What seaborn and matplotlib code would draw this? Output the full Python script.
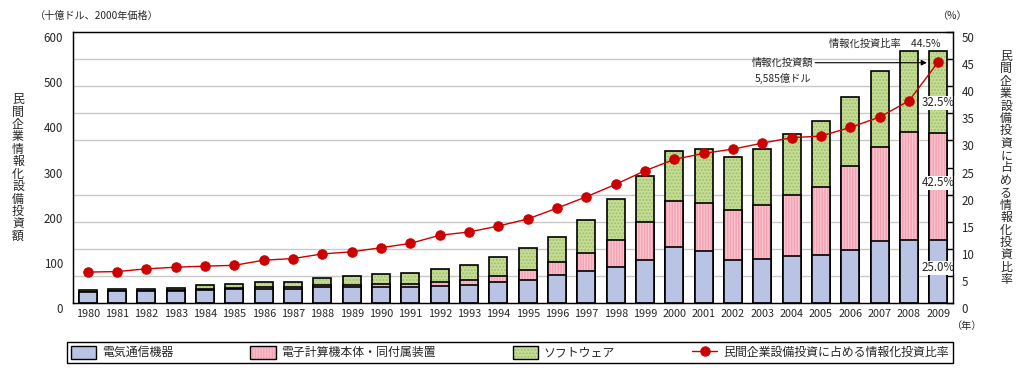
import numpy as np
import pandas as pd
import matplotlib
matplotlib.use("Agg")
import matplotlib.pyplot as plt
import seaborn as sns
from matplotlib.patches import Patch
from matplotlib.lines import Line2D

# ---------------- data ----------------
years = [str(y) for y in range(1980, 2010)]
telecom = [24, 26.5, 26.5, 27, 28, 31.5, 32, 31, 35, 35,
           35, 35, 37, 39, 46, 52, 61, 71, 80, 96,
           124, 115, 96, 98, 104, 107, 118, 137, 140, 139.6]
computers = [1, 1, 1, 1, 2, 1.5, 4, 4, 5, 4,
             7, 7, 9.4, 11, 13.6, 20, 29, 40, 60, 83,
             101, 106, 110, 119, 135, 150, 185, 209, 239, 237.4]
software = [4.5, 4.2, 4.2, 6, 9, 9.8, 11, 11, 15, 20.6,
            21.3, 23.5, 28, 33.2, 42, 48.8, 57, 73, 90, 102,
            111, 119, 117, 123, 135, 147, 154, 168, 178, 181.5]
ratio = [5.7, 5.8, 6.3, 6.6, 6.8, 6.95, 7.9, 8.2, 9.05, 9.45,
         10.2, 11.0, 12.5, 13.1, 14.2, 15.5, 17.5, 19.6, 21.9, 24.4,
         26.5, 27.6, 28.4, 29.5, 30.5, 30.8, 32.4, 34.3, 37.3, 44.5]

labels = ["電気通信機器", "電子計算機本体・同付属装置", "ソフトウェア",
          "民間企業設備投資に占める情報化投資比率"]

# ---------------- style ----------------
sns.set_style("white")
plt.rcParams["font.family"] = ["Noto Sans CJK JP", "DejaVu Sans"]
plt.rcParams["hatch.linewidth"] = 0.9

BLUE = "#b9c3e3"
PINK = "#f3a3b3"
PINK_STRIPE = "#f9c6d0"
GREEN = "#c5dc95"
GREEN_DOT = "#9fbf6a"
RED = "#cc0000"
GRID = "#c8c8c8"

df = pd.DataFrame({"year": years, "telecom": telecom,
                   "computers": computers, "software": software})
df["pink_top"] = df["telecom"] + df["computers"]
df["total"] = df["pink_top"] + df["software"]

W, H = 1027, 378
fig = plt.figure(figsize=(W / 100, H / 100), dpi=100)
ax = fig.add_axes([73 / W, 1 - 303 / H, 880 / W, 271 / H])

BW = 0.62


def layer(col, face, hatch=None, hatch_color=None):
    sns.barplot(data=df, x="year", y=col, color=face, saturation=1,
                width=BW, errorbar=None, linewidth=0, ax=ax)
    for p in ax.containers[-1]:
        p.set_edgecolor("none")
        p.set_linewidth(0)
    if hatch:
        sns.barplot(data=df, x="year", y=col, color=face, saturation=1,
                    width=BW, errorbar=None, linewidth=0, ax=ax)
        for p in ax.containers[-1]:
            p.set_facecolor("none")
            p.set_edgecolor(hatch_color)
            p.set_hatch(hatch)
            p.set_linewidth(0)
    sns.barplot(data=df, x="year", y=col, color=face, saturation=1,
                width=BW, errorbar=None, linewidth=1.2, ax=ax)
    for p in ax.containers[-1]:
        p.set_fill(False)
        p.set_edgecolor("black")
        p.set_linewidth(1.2)


layer("total", GREEN, ".....", GREEN_DOT)
layer("pink_top", PINK, "||||||", PINK_STRIPE)
layer("telecom", BLUE)

ax.set_xlim(-0.5, len(years) - 0.5)
ax.set_ylim(0, 600)
ax.set_xlabel("")
ax.set_ylabel("")
ax.set_yticks(np.arange(0, 601, 100))
ax.set_yticks(np.arange(0, 601, 60), minor=True)
ax.yaxis.grid(True, which="minor", color=GRID, linewidth=1)
ax.yaxis.grid(False, which="major")
ax.xaxis.grid(False)
ax.set_axisbelow(True)
ax.tick_params(axis="y", which="both", length=0, pad=7, labelsize=8.3)
ax.set_xticks(np.arange(len(years)))
ax.set_xticklabels(years)
ax.set_xticks(np.arange(0.5, len(years) - 1, 1), minor=True)
ax.tick_params(axis="x", which="major", length=0, pad=4, labelsize=7.8)
ax.tick_params(axis="x", which="minor", direction="in", length=5,
               width=1, color="black")
for s in ax.spines.values():
    s.set_color("black")
    s.set_linewidth(0.9)

# ---------------- line on right axis ----------------
ax2 = ax.twinx()
sns.lineplot(x=np.arange(len(years)), y=ratio, ax=ax2, color=RED,
             linewidth=1, marker="o", markersize=6.8,
             markeredgecolor=RED, markerfacecolor=RED)
ax2.set_ylim(0, 50)
ax2.set_xlim(-0.5, len(years) - 0.5)
ax2.set_yticks(np.arange(0, 51, 5))
ax2.tick_params(axis="y", direction="in", length=5, width=1, pad=6,
                labelsize=8.3, color="black")
ax2.set_ylabel("")
ax2.grid(False)
for s in ax2.spines.values():
    s.set_color("black")
    s.set_linewidth(0.9)

for lbl in ax.get_yticklabels():
    lbl.set_verticalalignment("top")
for lbl in ax2.get_yticklabels():
    lbl.set_verticalalignment("top")

# ---------------- annotations ----------------
tot09 = df["total"].iloc[-1]
shares = [df["software"].iloc[-1] / tot09, df["computers"].iloc[-1] / tot09,
          df["telecom"].iloc[-1] / tot09]
for txt_y, sh in zip([443, 266, 77.5], shares):
    ax.text(29.0, txt_y, f"{sh * 100:.1f}%", ha="center", va="center",
            fontsize=8.3, zorder=10,
            bbox=dict(facecolor="white", edgecolor="none", pad=0.3))

ax.text(29.06, 573, f"情報化投資比率　{ratio[-1]:.1f}%", ha="right",
        va="center", fontsize=7.4, zorder=10)
ax.text(23.7, 514, f"情報化投資額\n{tot09 * 10:,.0f}億ドル", ha="center",
        va="center", fontsize=7.4, linespacing=1.5, zorder=10)
ax.annotate("", xy=(28.61, 532), xytext=(24.8, 532),
            arrowprops=dict(arrowstyle="-|>", color="black", lw=0.8,
                            mutation_scale=8, shrinkA=0, shrinkB=0),
            zorder=10)

fig.text(35 / W, 1 - 16 / H, "（十億ドル、2000年価格）", ha="left",
         va="center", fontsize=7.3)
fig.text(953 / W, 1 - 16 / H, "（%）", ha="center", va="center", fontsize=7.3)
fig.text(967 / W, 1 - 326 / H, "（年）", ha="center", va="center",
         fontsize=7.3)

fig.text(18 / W, 1 - 168 / H, "\n".join("民間企業情報化設備投資額"),
         ha="center", va="center", fontsize=8.6, linespacing=0.94)
fig.text(1006 / W, 1 - 168 / H, "\n".join("民間企業設備投資に占める情報化投資比率"),
         ha="center", va="center", fontsize=8.6, linespacing=0.94)

# ---------------- legend ----------------
h_blue = Patch(facecolor=BLUE, edgecolor="black", linewidth=1)
h_pink = (Patch(facecolor=PINK, edgecolor=PINK_STRIPE, hatch="||||||",
                linewidth=0),
          Patch(fill=False, edgecolor="black", linewidth=1))
h_green = (Patch(facecolor=GREEN, edgecolor=GREEN_DOT, hatch=".....",
                 linewidth=0),
           Patch(fill=False, edgecolor="black", linewidth=1))
h_line = Line2D([], [], color=RED, marker="o", markersize=6.5, linewidth=1)
leg = fig.legend([h_blue, h_pink, h_green, h_line], labels, loc="center",
                 bbox_to_anchor=(67 / W, 1 - 367 / H, 886 / W, 29 / H),
                 mode="expand", ncol=4, frameon=True, fancybox=False,
                 edgecolor="black", framealpha=1, fontsize=8.6,
                 handlelength=2.1, handleheight=1.3, handletextpad=0.5,
                 borderpad=0.35, borderaxespad=0)
leg.get_frame().set_linewidth(1)

fig.savefig("out.png", dpi=100)
